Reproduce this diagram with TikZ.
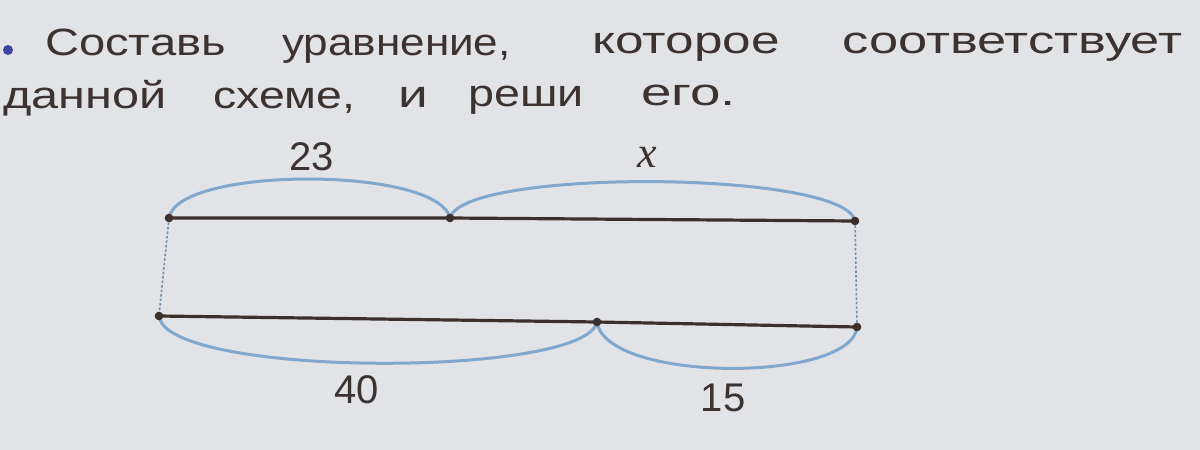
\documentclass[tikz,border=0pt]{standalone}
\usepackage{fontspec}
\usepackage{graphicx}
\setmainfont{Liberation Sans}
\newfontfamily\timesit{Liberation Serif}
\definecolor{paper}{RGB}{226,227,231}
\definecolor{ink}{RGB}{60,50,48}
\definecolor{seg}{RGB}{60,48,44}
\definecolor{arcblue}{RGB}{128,168,206}
\definecolor{bulletblue}{RGB}{60,70,160}
\newcommand\swd[2]{\scalebox{#1}[1]{#2}}
\begin{document}
\begin{tikzpicture}[x=1pt,y=-1pt,
  word/.style={anchor=base west,inner sep=0pt,text=ink,font=\fontsize{38}{46}\selectfont},
  num/.style={inner sep=0pt,text=ink,font=\fontsize{40}{48}\selectfont},
  segline/.style={draw=seg,line width=3.2pt},
  brace/.style={draw=arcblue,line width=3pt},
  dotline/.style={draw=arcblue!85!black,line width=1.6pt,dash pattern=on 2.5pt off 2pt},
  pt/.style={fill=seg}]
\fill[paper] (0,0) rectangle (1200,450);
\useasboundingbox (0,0) rectangle (1200,450);
% heading
\fill[bulletblue] (8,50) circle (5);
\node[word] (w1) at (45,55) {\swd{1.24}{Составь}};
\node[word] (w2) at (282,55) {\swd{1.16}{уравнение,}};
\node[word] (w3) at (592,53) {\swd{1.35}{которое}};
\node[word] (w4) at (842,53) {\swd{1.38}{соответствует}};
\node[word] (w5) at (3,108) {\swd{1.28}{данной}};
\node[word] (w6) at (213,108) {\swd{1.22}{схеме,}};
\node[word] (w7) at (398,107) {\swd{1.4}{и}};
\node[word] (w8) at (468,106) {\swd{1.23}{реши}};
\node[word] (w9) at (641,105) {\swd{1.44}{его.}};
% points
\coordinate (A) at (169,218);
\coordinate (B) at (450,218);
\coordinate (C) at (855,221);
\coordinate (D) at (159,316);
\coordinate (E) at (597,322);
\coordinate (F) at (857,327);
% dotted verticals
\draw[dotline] (A) -- (D);
\draw[dotline] (C) -- (F);
% braces
\draw[brace] (A) .. controls (177,166) and (438,166) .. (B);
\draw[brace] (B) .. controls (462,168) and (845,170) .. (C);
\draw[brace] (D) .. controls (166,378) and (586,378) .. (E);
\draw[brace] (E) .. controls (606,383) and (852,383) .. (F);
% segments
\draw[segline] (A) -- (B) -- (C);
\draw[segline] (D) -- (E) -- (F);
\foreach \p in {A,B,C,D,E,F} \fill[pt] (\p) circle (4.3);
% labels
\node[num] (l23) at (312,157) {23};
\node[inner sep=0pt,text=ink,font=\fontsize{44}{50}\timesit\itshape] (lx) at (647,157) {x};
\node[num] (l40) at (357,390) {40};
\node[num] (l15) at (723,398) {15};
\end{tikzpicture}
\end{document}
